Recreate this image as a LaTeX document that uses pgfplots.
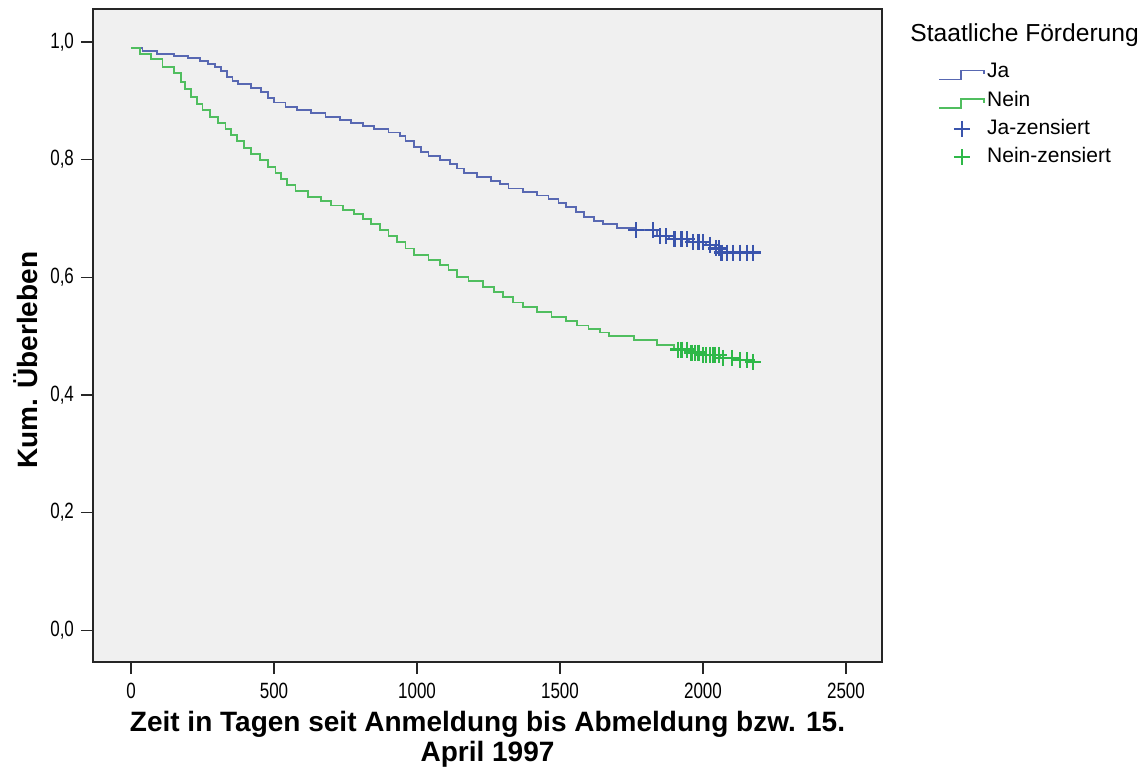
\documentclass[border=0pt]{standalone}
\usepackage{fontspec}
\setmainfont{Liberation Sans}
\usepackage{pgfplots}
\pgfplotsset{compat=1.18}
\definecolor{bgc}{RGB}{240,240,240}
\definecolor{jaline}{RGB}{88,104,178}
\definecolor{jamark}{RGB}{58,84,172}
\definecolor{neinline}{RGB}{80,190,95}
\definecolor{neinmark}{RGB}{46,184,72}
\pgfplotsset{
  steplegend/.style={legend image code/.code={\draw[##1] (0pt,-3.5pt) -- (11pt,-3.5pt) -- (11pt,1pt) -- (22.5pt,1pt) -- (22.5pt,-1pt);}},
  marklegend/.style={legend image code/.code={\draw[##1] plot coordinates {(11.25pt,0pt)};}},
}
\begin{document}
\begin{tikzpicture}
\useasboundingbox (0,0) rectangle (574pt,-385pt);
\begin{axis}[
  at={(46.5pt,-331pt)}, anchor=south west,
  scale only axis, width=394.5pt, height=326.5pt,
  xmin=-133, xmax=2626, ymin=-0.054, ymax=1.056,
  clip=false,
  axis background/.style={fill=bgc},
  axis line style={black!85, line width=0.8pt},
  xtick={0,500,1000,1500,2000,2500},
  ytick={0,0.2,0.4,0.6,0.8,1},
  tick align=outside, major tick length=6pt,
  tick style={black!85, line width=0.7pt},
  xtick pos=left, ytick pos=left,
  ticklabel style={font=\fontsize{8.5}{10}\selectfont},
  xticklabel={\scalebox{1}[1.3]{\pgfmathprintnumber[assume math mode=true,1000 sep={}]{\tick}}},
  yticklabel={\scalebox{1}[1.3]{\pgfmathprintnumber[assume math mode=true,fixed,fixed zerofill,precision=1,use comma]{\tick}}},
  xticklabel style={yshift=-1pt},
  xlabel={Zeit in Tagen seit Anmeldung bis Abmeldung bzw. 15.\\April 1997},
  xlabel style={align=center, at={(axis description cs:0.5,-0.074)}, anchor=north, inner sep=0pt, font=\bfseries\fontsize{14}{15}\selectfont},
  ylabel={Kum. Überleben},
  ylabel style={at={(axis description cs:-0.085,0.462)}, anchor=center, inner sep=0pt, font=\bfseries\fontsize{14}{16}\selectfont},
  legend style={draw=none, fill=none, at={(axis description cs:1.071,0.921)}, anchor=north west,
    font=\fontsize{10.5}{12}\selectfont, row sep=2.6pt, inner sep=0pt,
    nodes={inner sep=1pt, text height=7.5pt, text depth=2pt}},
  legend cell align=left,
]
\node[anchor=west, font=\fontsize{12.3}{14}\selectfont, inner sep=0pt] at (axis description cs:1.0355,0.960) {Staatliche Förderung};

\addplot[const plot, color=jaline, line width=0.9pt, steplegend]
coordinates {
(0,0.990) (40,0.985) (90,0.980) (150,0.976) (200,0.973) (240,0.968) (270,0.963)
(295,0.957) (315,0.950) (335,0.941) (355,0.934) (375,0.928) (420,0.922) (455,0.915)
(480,0.905) (500,0.897) (540,0.890) (580,0.884) (630,0.879) (680,0.873) (730,0.867)
(770,0.862) (810,0.857) (850,0.852) (900,0.846) (940,0.840) (960,0.832) (990,0.822)
(1015,0.813) (1040,0.806) (1080,0.799) (1115,0.792) (1140,0.785) (1165,0.777)
(1210,0.771) (1260,0.764) (1290,0.758) (1320,0.751) (1370,0.745) (1420,0.739)
(1460,0.733) (1495,0.726) (1520,0.719) (1555,0.711) (1585,0.703) (1620,0.695)
(1650,0.690) (1700,0.684) (1760,0.680) (1840,0.670) (1880,0.665) (1950,0.660)
(2010,0.655) (2040,0.649) (2060,0.642) (2175,0.642)
};
\addlegendentry{Ja}

\addplot[const plot, color=neinline, line width=0.9pt, steplegend]
coordinates {
(0,0.990) (30,0.980) (70,0.971) (110,0.958) (150,0.947) (175,0.932) (190,0.920)
(210,0.906) (230,0.895) (250,0.884) (275,0.872) (305,0.862) (330,0.852) (350,0.842)
(370,0.832) (395,0.820) (420,0.810) (450,0.799) (480,0.788) (505,0.777) (525,0.767)
(545,0.757) (575,0.746) (620,0.737) (665,0.730) (700,0.722) (740,0.715) (780,0.707)
(810,0.699) (840,0.691) (870,0.681) (900,0.670) (930,0.660) (960,0.649) (990,0.638)
(1040,0.630) (1080,0.621) (1110,0.612) (1140,0.601) (1180,0.593) (1230,0.584)
(1270,0.575) (1300,0.566) (1335,0.557) (1370,0.549) (1420,0.541) (1470,0.533)
(1520,0.525) (1560,0.518) (1600,0.512) (1640,0.506) (1670,0.500) (1760,0.493)
(1840,0.485) (1900,0.477) (1960,0.472) (2000,0.468) (2060,0.463) (2110,0.459)
(2175,0.456)
};
\addlegendentry{Nein}

\addplot[only marks, mark=+, mark size=4pt, color=jamark, mark options={line width=1.2pt}, marklegend]
coordinates {
(1765,0.680) (1825,0.680) (1850,0.670) (1870,0.670) (1900,0.665) (1925,0.665)
(1944,0.665) (1965,0.660) (1985,0.660) (2000,0.660) (2024,0.655) (2045,0.649)
(2055,0.649) (2065,0.642) (2083,0.642) (2105,0.642) (2130,0.642) (2154,0.642) (2175,0.642)
};
\addlegendentry{Ja-zensiert}

\addplot[only marks, mark=+, mark size=4pt, color=neinmark, mark options={line width=1.2pt}, marklegend]
coordinates {
(1913,0.477) (1925,0.477) (1944,0.477) (1960,0.472) (1972,0.472) (1985,0.472)
(2000,0.468) (2010,0.468) (2024,0.468) (2035,0.468) (2042,0.468) (2055,0.468)
(2070,0.463) (2101,0.463) (2129,0.459) (2154,0.459) (2175,0.456)
};
\addlegendentry{Nein-zensiert}
\end{axis}
\end{tikzpicture}
\end{document}
